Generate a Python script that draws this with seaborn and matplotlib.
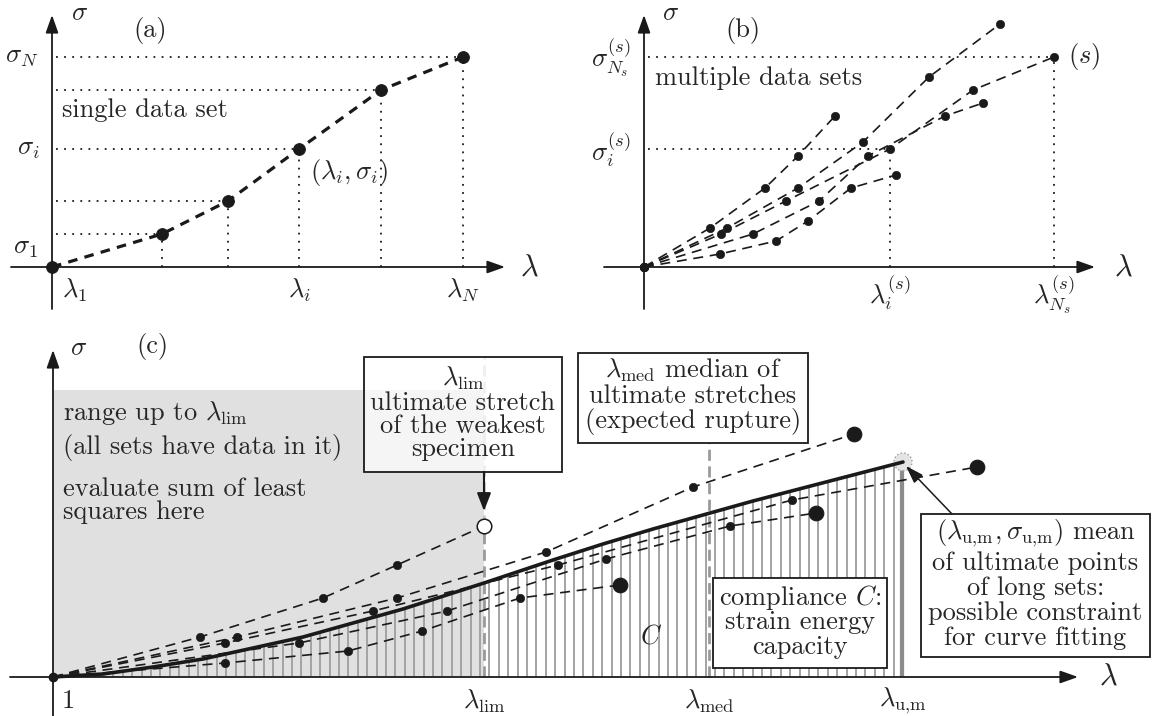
import numpy as np
import pandas as pd
import matplotlib
matplotlib.use("Agg")
import matplotlib.pyplot as plt
import seaborn as sns
from matplotlib.patches import Rectangle, Circle

sns.set_theme(style="white")
plt.rcParams["font.family"] = ["cmr10", "DejaVu Serif"]
plt.rcParams["mathtext.fontset"] = "cm"
plt.rcParams["axes.unicode_minus"] = False

W, H = 1154, 716
FS = 19

# ---------------- data (drawing units, origin of each panel = 0,0) ----------------
# panel (a): single data set
lam_a = [0, 110, 176, 247, 329, 411]
sig_a = [0, 33, 66, 118, 177, 210]

# panel (b): multiple data sets
b_lam_A = [0, 66, 121, 154, 191]
b_sig_A = [0, 39, 79, 111, 151]
b_lam_B = [0, 83, 154, 219, 285, 356]
b_sig_B = [0, 39, 79, 125, 190, 243]
b_lam_S = [0, 77, 142, 246, 329, 410]
b_sig_S = [0, 33, 66, 118, 177, 210]
b_lam_D = [0, 109, 175, 224, 301, 339]
b_sig_D = [0, 33, 66, 111, 151, 164]
b_lam_E = [0, 76, 132, 164, 207, 252]
b_sig_E = [0, 13, 26, 46, 79, 92]

# panel (c): data sets, fitted curve
c_lam_1 = [0, 147, 270, 344, 431]          # weakest specimen (ends at lambda_lim)
c_sig_1 = [0, 40, 79, 112, 151]
c_lam_2 = [0, 184, 344, 493, 640, 801]
c_sig_2 = [0, 40, 79, 125, 190, 243]
c_lam_3 = [0, 172, 320, 505, 739, 924]
c_sig_3 = [0, 34, 66, 112, 177, 210]
c_lam_4 = [0, 246, 394, 553, 677, 763]
c_sig_4 = [0, 34, 66, 118, 151, 164]
c_lam_5 = [0, 172, 295, 369, 467, 567]
c_sig_5 = [0, 14, 26, 46, 79, 92]

fit_lam = [0, 50, 100, 150, 200, 250, 300, 350, 400, 431, 500, 550, 600, 650,
           700, 750, 800, 850]
fit_sig = [0, 3, 10, 18, 29, 40, 54, 68, 84, 94, 117, 133, 148, 162,
           176, 189, 202, 215]

lam_lim, lam_med, lam_um, sig_um = 431, 656, 850, 215
range_top = 287

# tick / axis labels
a_xticks = [r"$\lambda_1$", r"$\lambda_i$", r"$\lambda_N$"]
a_yticks = [r"$\sigma_1$", r"$\sigma_i$", r"$\sigma_N$"]
b_xticks = [r"$\lambda_i^{(s)}$", r"$\lambda_{N_s}^{(s)}$"]
b_yticks = [r"$\sigma_i^{(s)}$", r"$\sigma_{N_s}^{(s)}$"]
c_xticks = ["1", r"$\lambda_{\rm lim}$", r"$\lambda_{\rm med}$", r"$\lambda_{\rm u{,}m}$"]

# ---------------- figure ----------------
fig = plt.figure(figsize=(W / 100, H / 100), dpi=100)


def make_panel(x0, y0, x1, y1, ox, oy):
    ax = fig.add_axes([x0 / W, 1 - y1 / H, (x1 - x0) / W, (y1 - y0) / H])
    lims = ((x0 - ox, x1 - ox), (oy - y1, oy - y0))
    return ax, lims


def finish(ax, lims):
    ax.set_xlim(*lims[0])
    ax.set_ylim(*lims[1])
    ax.set_axis_off()


def arrow(ax, start, end, lw=1.3, hl=0.9, hw=0.32):
    ax.annotate("", xy=end, xytext=start,
                arrowprops=dict(arrowstyle=f"-|>,head_length={hl},head_width={hw}",
                                lw=lw, color="k", shrinkA=0, shrinkB=0),
                zorder=8)


DOT = (0, (1, 3.5))

# ======================= panel (a) =======================
axa, la = make_panel(0, 0, 577, 322, 52, 267)
arrow(axa, (-41, 0), (453, 0))
arrow(axa, (0, -42), (0, 252))
for xv, yv in zip(lam_a[1:], sig_a[1:]):
    axa.plot([4, xv], [yv, yv], color="k", lw=1.3, ls=DOT, zorder=2)
    axa.plot([xv, xv], [0, yv], color="k", lw=1.3, ls=DOT, zorder=2)
sns.lineplot(x=lam_a, y=sig_a, ax=axa, color="k", lw=2.3, linestyle=(0, (3, 2.3)),
             sort=False, estimator=None, zorder=3)
sns.scatterplot(x=lam_a, y=sig_a, ax=axa, color="k", s=72, edgecolor="k", zorder=5,
                legend=False)
axa.text(468, -1, r"$\lambda$", fontsize=FS + 3, ha="left", va="center")
axa.text(19, 254, r"$\sigma$", fontsize=FS, ha="left", va="center")
axa.text(98, 237, "(a)", fontsize=FS, ha="center", va="center")
for lab, xv in zip(a_xticks, [lam_a[0] + 23, lam_a[3], lam_a[5]]):
    axa.text(xv, -23, lab, fontsize=FS, ha="center", va="center")
for lab, yv, dx in zip(a_yticks, [19, sig_a[3], sig_a[5]], [-14, -12, -14]):
    axa.text(dx, yv, lab, fontsize=FS, ha="right", va="center")
axa.text(10, 157, "single data set", fontsize=FS, ha="left", va="center")
axa.text(258, 94, r"$(\lambda_i,\sigma_i)$", fontsize=FS, ha="left", va="center")
finish(axa, la)

# ======================= panel (b) =======================
axb, lb = make_panel(577, 0, 1154, 322, 644, 267)
arrow(axb, (-40, 0), (451, 0))
arrow(axb, (0, -42), (0, 252))
xi, yi = b_lam_S[3], b_sig_S[3]
xn, yn = b_lam_S[-1], b_sig_S[-1]
for xv, yv in [(xi, yi), (xn, yn)]:
    axb.plot([4, xv], [yv, yv], color="k", lw=1.3, ls=DOT, zorder=2)
    axb.plot([xv, xv], [0, yv], color="k", lw=1.3, ls=DOT, zorder=2)
b_df = pd.concat([
    pd.DataFrame({"lam": l, "sig": s, "set": name})
    for name, l, s in [("A", b_lam_A, b_sig_A), ("B", b_lam_B, b_sig_B),
                       ("S", b_lam_S, b_sig_S), ("D", b_lam_D, b_sig_D),
                       ("E", b_lam_E, b_sig_E)]
])
sns.lineplot(data=b_df, x="lam", y="sig", units="set", estimator=None, sort=False,
             color="k", lw=1.2, linestyle=(0, (6, 4)), ax=axb, zorder=3)
sns.scatterplot(data=b_df, x="lam", y="sig", color="k", s=36, edgecolor="k",
                ax=axb, zorder=5, legend=False)
axb.text(470, -1, r"$\lambda$", fontsize=FS + 3, ha="left", va="center")
axb.text(18, 254, r"$\sigma$", fontsize=FS, ha="left", va="center")
axb.text(99, 237, "(b)", fontsize=FS, ha="center", va="center")
axb.text(xi, -26, b_xticks[0], fontsize=FS, ha="center", va="center")
axb.text(xn, -28, b_xticks[1], fontsize=FS, ha="center", va="center")
axb.text(-13, yi - 1, b_yticks[0], fontsize=FS, ha="right", va="center")
axb.text(-13, yn - 1, b_yticks[1], fontsize=FS, ha="right", va="center")
axb.text(11, 189, "multiple data sets", fontsize=FS, ha="left", va="center")
axb.text(xn + 14, yn, r"$(s)$", fontsize=FS, ha="left", va="center")
finish(axb, lb)

# ======================= panel (c) =======================
axc, lc = make_panel(0, 325, 1154, 716, 53, 677)
axc.add_patch(Rectangle((0, 0), lam_lim, range_top, facecolor="#e0e0e0",
                        edgecolor="none", zorder=0))
# hatching of the compliance area under the fitted curve
hx = np.arange(4, lam_um, 9.4)
axc.vlines(hx, 0, np.interp(hx, fit_lam, fit_sig), color="#a3a3a3", lw=1.4, zorder=1)
axc.vlines([lam_um - 2, lam_um], 0, sig_um, color="#8c8c8c", lw=1.6, zorder=1)
# vertical markers
axc.plot([lam_lim, lam_lim], [0, c_sig_1[-1]], color="#9a9a9a", lw=2,
         ls=(0, (4, 2)), zorder=2)
axc.plot([lam_lim, lam_lim], [c_sig_1[-1], 320], color="#c8c8c8", lw=2,
         ls=(0, (4, 2)), zorder=2)
axc.plot([lam_med, lam_med], [0, 234], color="#9a9a9a", lw=2, ls=(0, (4, 2)),
         zorder=2)
axc.add_patch(Circle((lam_um, sig_um), 9, facecolor="#e4e4e4", edgecolor="#9a9a9a",
                     lw=1, ls=":", zorder=2.5))

c_sets = [("1", c_lam_1, c_sig_1), ("2", c_lam_2, c_sig_2), ("3", c_lam_3, c_sig_3),
          ("4", c_lam_4, c_sig_4), ("5", c_lam_5, c_sig_5)]
c_df = pd.concat([pd.DataFrame({"lam": l, "sig": s, "set": n}) for n, l, s in c_sets])
sns.lineplot(data=c_df, x="lam", y="sig", units="set", estimator=None, sort=False,
             color="k", lw=1.2, linestyle=(0, (6, 4)), ax=axc, zorder=3)
sns.lineplot(x=fit_lam, y=fit_sig, ax=axc, color="k", lw=2.6, sort=False,
             estimator=None, zorder=4)
inner = pd.concat([pd.DataFrame({"lam": l[1:-1], "sig": s[1:-1]}) for _, l, s in c_sets])
ult = pd.DataFrame({"lam": [l[-1] for _, l, _ in c_sets[1:]],
                    "sig": [s[-1] for _, _, s in c_sets[1:]]})
sns.scatterplot(data=inner, x="lam", y="sig", color="k", s=36, edgecolor="k",
                ax=axc, zorder=5, legend=False)
sns.scatterplot(data=ult, x="lam", y="sig", color="k", s=110, edgecolor="k",
                ax=axc, zorder=5, legend=False)
sns.scatterplot(x=[c_lam_1[-1]], y=[c_sig_1[-1]], color="white", s=110,
                edgecolor="k", linewidth=1.1, ax=axc, zorder=5, legend=False)
axc.plot([0], [0], "o", color="k", ms=6, zorder=6)

arrow(axc, (-43, 0), (1025, 0))
arrow(axc, (0, -40), (0, 327))
axc.text(1046, 0, r"$\lambda$", fontsize=FS + 3, ha="left", va="center")
axc.text(17, 329, r"$\sigma$", fontsize=FS, ha="left", va="center")
axc.text(99, 330, "(c)", fontsize=FS, ha="center", va="center")
for lab, xv in zip(c_xticks, [15, lam_lim, lam_med, lam_um]):
    axc.text(xv, -24, lab, fontsize=FS, ha="center", va="center")

for txt, yv in [(r"range up to $\lambda_{\rm lim}$", 257),
                ("(all sets have data in it)", 223),
                ("evaluate sum of least", 181),
                ("squares here", 158)]:
    axc.text(10, yv, txt, fontsize=FS, ha="left", va="baseline", zorder=7)


def box(ax, x0, x1, y0, y1, lines, alpha=1.0):
    ax.add_patch(Rectangle((x0, y0), x1 - x0, y1 - y0, facecolor="white",
                           alpha=alpha, edgecolor="none", zorder=6))
    ax.add_patch(Rectangle((x0, y0), x1 - x0, y1 - y0, facecolor="none",
                           edgecolor="k", lw=1.3, zorder=6.5))
    cx = (x0 + x1) / 2
    for txt, yv in lines:
        ax.text(cx, yv, txt, fontsize=FS, ha="center", va="baseline", zorder=7)


box(axc, 311, 509, 205, 320,
    [(r"$\lambda_{\rm lim}$", 291), ("ultimate stretch", 267),
     ("of the weakest", 244), ("specimen", 221)], alpha=0.7)
box(axc, 525, 755, 234, 324,
    [(r"$\lambda_{\rm med}$ median of", 299), ("ultimate stretches", 274),
     ("(expected rupture)", 249)])
box(axc, 660, 834, 9, 99,
    [(r"compliance $C$:", 72), ("strain energy", 48), ("capacity", 23)])
box(axc, 868, 1097, 20, 163,
    [(r"$(\lambda_{\rm u{,}m},\sigma_{\rm u{,}m})$ mean", 138),
     ("of ultimate points", 107), ("of long sets:", 82),
     ("possible constraint", 57), ("for curve fitting", 32)])
axc.text(598, 40, r"$C$", fontsize=FS, ha="center", va="center", zorder=7)

arrow(axc, (lam_lim, 205), (lam_lim, 166), lw=1.5, hl=0.9, hw=0.35)
arrow(axc, (899, 163), (lam_um + 3, sig_um - 4), lw=1.1, hl=0.9, hw=0.3)
finish(axc, lc)

fig.savefig("out.png", dpi=100)
